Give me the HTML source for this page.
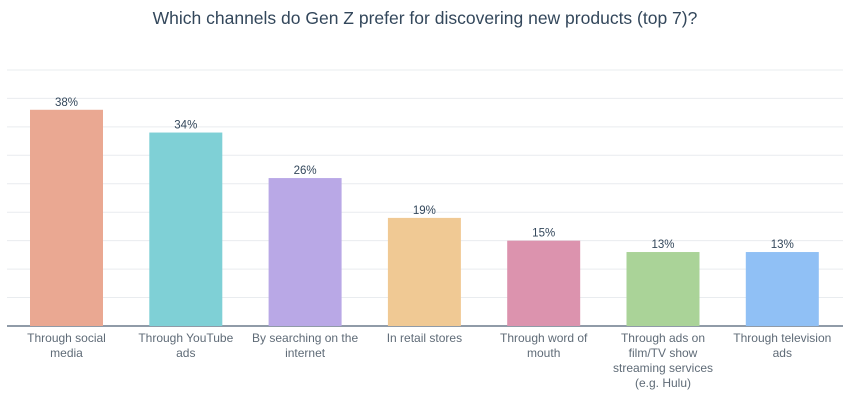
<!DOCTYPE html>
<html><head><meta charset="utf-8"><style>
body{margin:0;background:#fff;}
svg{display:block;font-family:"Liberation Sans",sans-serif;}
</style></head><body>
<svg id="chart" width="850" height="404">
<text x="425" y="24" text-anchor="middle" font-size="17.5" font-weight="500" fill="#33475b">Which channels do Gen Z prefer for discovering new products (top 7)?</text>
<g id="grid"></g><g id="bars"></g><g id="labels"></g>
</svg>
<script>
const categories=[["Through social","media"],["Through YouTube","ads"],["By searching on the","internet"],["In retail stores"],["Through word of","mouth"],["Through ads on","film/TV show","streaming services","(e.g. Hulu)"],["Through television","ads"]];
const values=[38,34,26,19,15,13,13];
const valueLabels=["38%","34%","26%","19%","15%","13%","13%"];
const colors=["#eaa892","#7fd0d6","#b9a8e6","#f0c994","#dc93ae","#aad398","#90c0f5"];
const gridTicks=[5,10,15,20,25,30,35,40,45];
const ns="http://www.w3.org/2000/svg";
const base=326,perUnit=5.69,x0=30,step=119.3,bw=73;
const y=v=>base-v*perUnit;
const xs=i=>x0+i*step;
function mk(t,a,p){const e=document.createElementNS(ns,t);for(const k in a)e.setAttribute(k,a[k]);p.appendChild(e);return e;}
const G=document.getElementById('grid'),B=document.getElementById('bars'),L=document.getElementById('labels');
gridTicks.forEach(t=>{const l=mk('line',{x1:7,x2:843,y1:y(t),y2:y(t),stroke:'#e9ecef','stroke-width':1},G);

});
values.forEach((v,i)=>{
const r=mk('rect',{x:xs(i),y:y(v),width:bw,height:base-y(v),fill:colors[i]},B);


const t=mk('text',{x:xs(i)+bw/2,y:y(v)-4,'text-anchor':'middle','font-size':11.5,fill:'#33475b'},L);
t.textContent=valueLabels[i];


categories[i].forEach((line,j)=>{const c=mk('text',{x:xs(i)+bw/2,y:342+j*15,'text-anchor':'middle','font-size':12,fill:'#5f6b77'},L);
c.textContent=line;

});
});
const ax=mk('line',{x1:7,x2:843,y1:base,y2:base,stroke:'#6b7a8c','stroke-width':1.5},G);


</script>
</body></html>
